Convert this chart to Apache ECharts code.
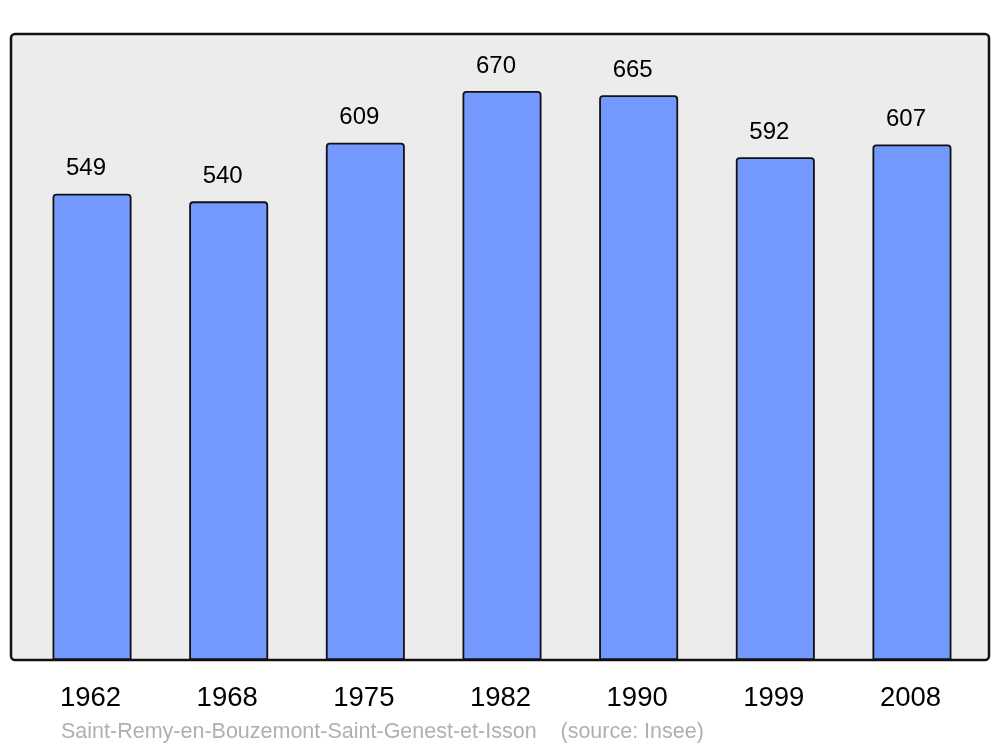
<!DOCTYPE html>
<html><head><meta charset="utf-8">
<script src="https://cdn.jsdelivr.net/npm/echarts@6/dist/echarts.min.js"></script>
<style>html,body{margin:0;padding:0;background:#fff}#c{width:1000px;height:747px}</style>
</head><body><div id="c"></div>
<script>
const categories = ['1962','1968','1975','1982','1990','1999','2008'];
const population = [549,540,609,670,665,592,607];
const footer = 'Saint-Remy-en-Bouzemont-Saint-Genest-et-Isson    (source: Insee)';

const chart = echarts.init(document.getElementById('c'), null, {renderer:'canvas'});
chart.setOption({
  animation:false,
  backgroundColor:'#ffffff',
  graphic:[
    {type:'rect', z:-10, shape:{x:11,y:34,width:978,height:626,r:4},
     style:{fill:'#ececec', stroke:'#111', lineWidth:2.5}},
    {type:'text', left:61, top:721, style:{text:footer, fill:'#b0b0b0', font:'21.5px "Liberation Sans", Arial, sans-serif'}}
  ],
  grid:{left:23.7, right:19.7, top:34, bottom:87},
  xAxis:{type:'category', data:categories,
    axisLine:{show:false}, axisTick:{show:false},
    axisLabel:{color:'#000', fontSize:27.5, fontFamily:'Liberation Sans', margin:24, padding:[0,3,0,0]}},
  yAxis:{type:'value', min:0, max:737, show:false, splitLine:{show:false}},
  series:[{type:'bar', data:population, barWidth:79,
    itemStyle:{color:'#7399ff', borderColor:'#111', borderWidth:1.8, borderRadius:[3,3,0,0]},
    label:{show:true, position:'top', distance:13, offset:[-6,0], color:'#000', fontSize:24, fontFamily:'Liberation Sans'}}]
});
</script></body></html>
